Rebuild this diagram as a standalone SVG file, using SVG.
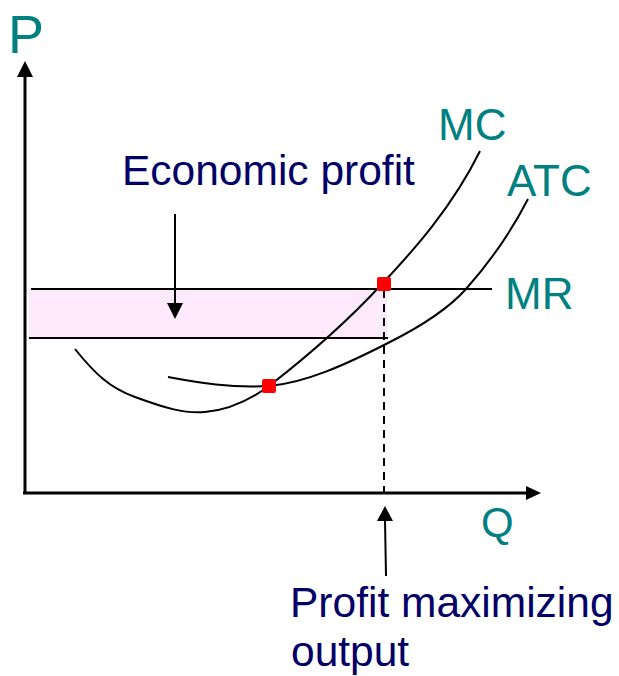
<svg xmlns="http://www.w3.org/2000/svg" width="619" height="676" viewBox="0 0 619 676">
  <style>
    .lbl { font-family: "Liberation Sans", Arial, sans-serif; fill: #008080; }
    .note { font-family: "Liberation Sans", Arial, sans-serif; fill: #000066; font-size: 42.5px; }
    .ln { fill: none; stroke: #000; stroke-width: 2; }
    .ax { fill: none; stroke: #000; stroke-width: 3; }
    .pt { fill: #ff0000; }
  </style>
  <rect width="619" height="676" fill="#ffffff"/>

  <g id="profit-area">
    <rect x="29" y="289" width="358" height="49" fill="#fde9fc"/>
  </g>

  <g id="connectors">
    <!-- axes -->
    <path class="ax" d="M25,493 V76"/>
    <polygon points="25,61 17,77 33,77" fill="#000"/>
    <path class="ax" d="M23,493 H527"/>
    <polygon points="541,493 526,486 526,500" fill="#000"/>
    <!-- MR line and ATC level line -->
    <path class="ln" d="M31,289 H492"/>
    <path class="ln" d="M29,338 H388"/>
    <!-- dashed vertical -->
    <path d="M384,290 V493" fill="none" stroke="#000" stroke-width="2" stroke-dasharray="8,6"/>
    <!-- annotation arrows -->
    <path class="ln" d="M175,214 V304"/>
    <polygon points="175,319 167,303 183,303" fill="#000"/>
    <path class="ln" d="M386,576 L385,520"/>
    <polygon points="385,506 377,521 393,521" fill="#000"/>
  </g>

  <g id="MC-curve">
    <path class="ln" d="M75,349 C95,374 110,388 135,397 C165,408 185,414 205,412 C230,410 250,400 269,386 C300,362 345,324 382,284 C412,252 452,208 480,151"/>
  </g>
  <g id="ATC-curve">
    <path class="ln" d="M168,377 C200,383 230,388 269,386 C305,383 345,365 388,343 C420,327 450,307 466,289 C490,262 512,230 528,199"/>
  </g>

  <g id="points">
    <rect class="pt" x="377" y="277" width="14" height="14" rx="2"/>
    <rect class="pt" x="262" y="379" width="14" height="14" rx="2"/>
  </g>

  <g id="label-P"><text class="lbl" x="8" y="53" font-size="54">P</text></g>
  <g id="label-Q"><text class="lbl" x="481" y="537" font-size="42">Q</text></g>
  <g id="label-MC"><text class="lbl" x="438" y="140" font-size="44">MC</text></g>
  <g id="label-ATC"><text class="lbl" x="507" y="196" font-size="44">ATC</text></g>
  <g id="label-MR"><text class="lbl" x="505" y="309" font-size="44">MR</text></g>
  <g id="label-economic-profit"><text class="note" x="122" y="185">Economic profit</text></g>
  <g id="label-profit-max">
    <text class="note" x="290" y="617">Profit maximizing</text>
    <text class="note" x="291" y="666">output</text>
  </g>
</svg>
